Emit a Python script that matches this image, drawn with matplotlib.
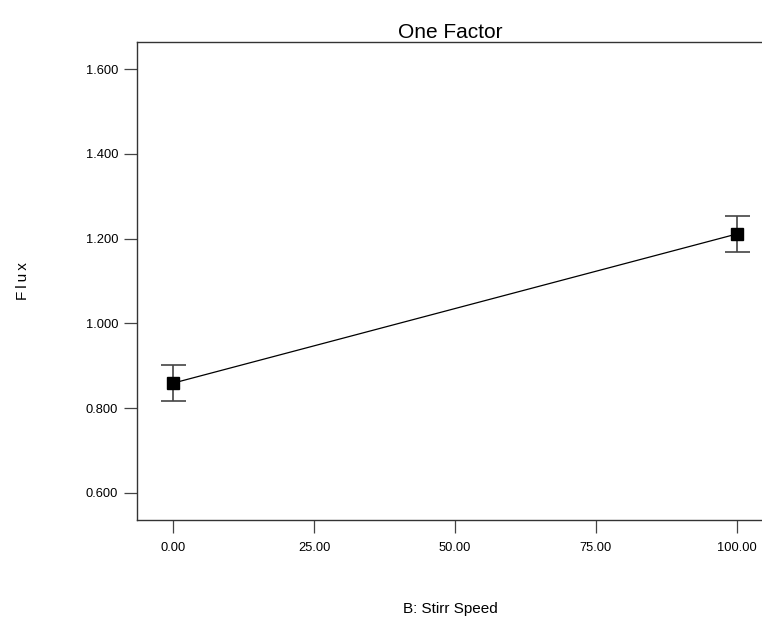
import matplotlib
matplotlib.use('Agg')
from matplotlib import pyplot as plt

plt.rcParams['font.family'] = ['Liberation Sans', 'DejaVu Sans']

stirr_speed = [0.0, 100.0]
flux_mean = [0.859, 1.211]
flux_err = [0.042, 0.043]
x_ticks = [0, 25, 50, 75, 100]
y_ticks = [0.6, 0.8, 1.0, 1.2, 1.4, 1.6]

fig = plt.figure(figsize=(7.62, 6.21), dpi=100)
ax = fig.add_axes([0.1798, 0.1626, 0.822, 0.7698])

ax.errorbar(stirr_speed, flux_mean, yerr=flux_err, color='black', lw=0.9,
            marker='s', markersize=8, ecolor='#444444', elinewidth=1.2,
            capsize=9, capthick=1.2)

ax.set_xlim(-6.4, 104.7)
ax.set_ylim(0.536, 1.664)
ax.set_xticks(x_ticks)
ax.set_xticklabels(['%.2f' % v for v in x_ticks])
ax.set_yticks(y_ticks)
ax.set_yticklabels(['%.3f' % v for v in y_ticks])
ax.tick_params(direction='out', length=9.5, width=0.9, labelsize=9.3, pad=4,
               color='#444444')
ax.tick_params(axis='x', pad=6)
for side in ['left', 'bottom', 'top', 'right']:
    ax.spines[side].set_linewidth(1.0)
    ax.spines[side].set_color('#333333')

ax.set_title('One Factor', fontsize=15, pad=3)
ax.set_xlabel('B: Stirr Speed', fontsize=11, labelpad=35)
ax.set_ylabel('F\u2009l\u2009u\u2009x', fontsize=11, labelpad=40)

fig.savefig('out.png', dpi=100)
